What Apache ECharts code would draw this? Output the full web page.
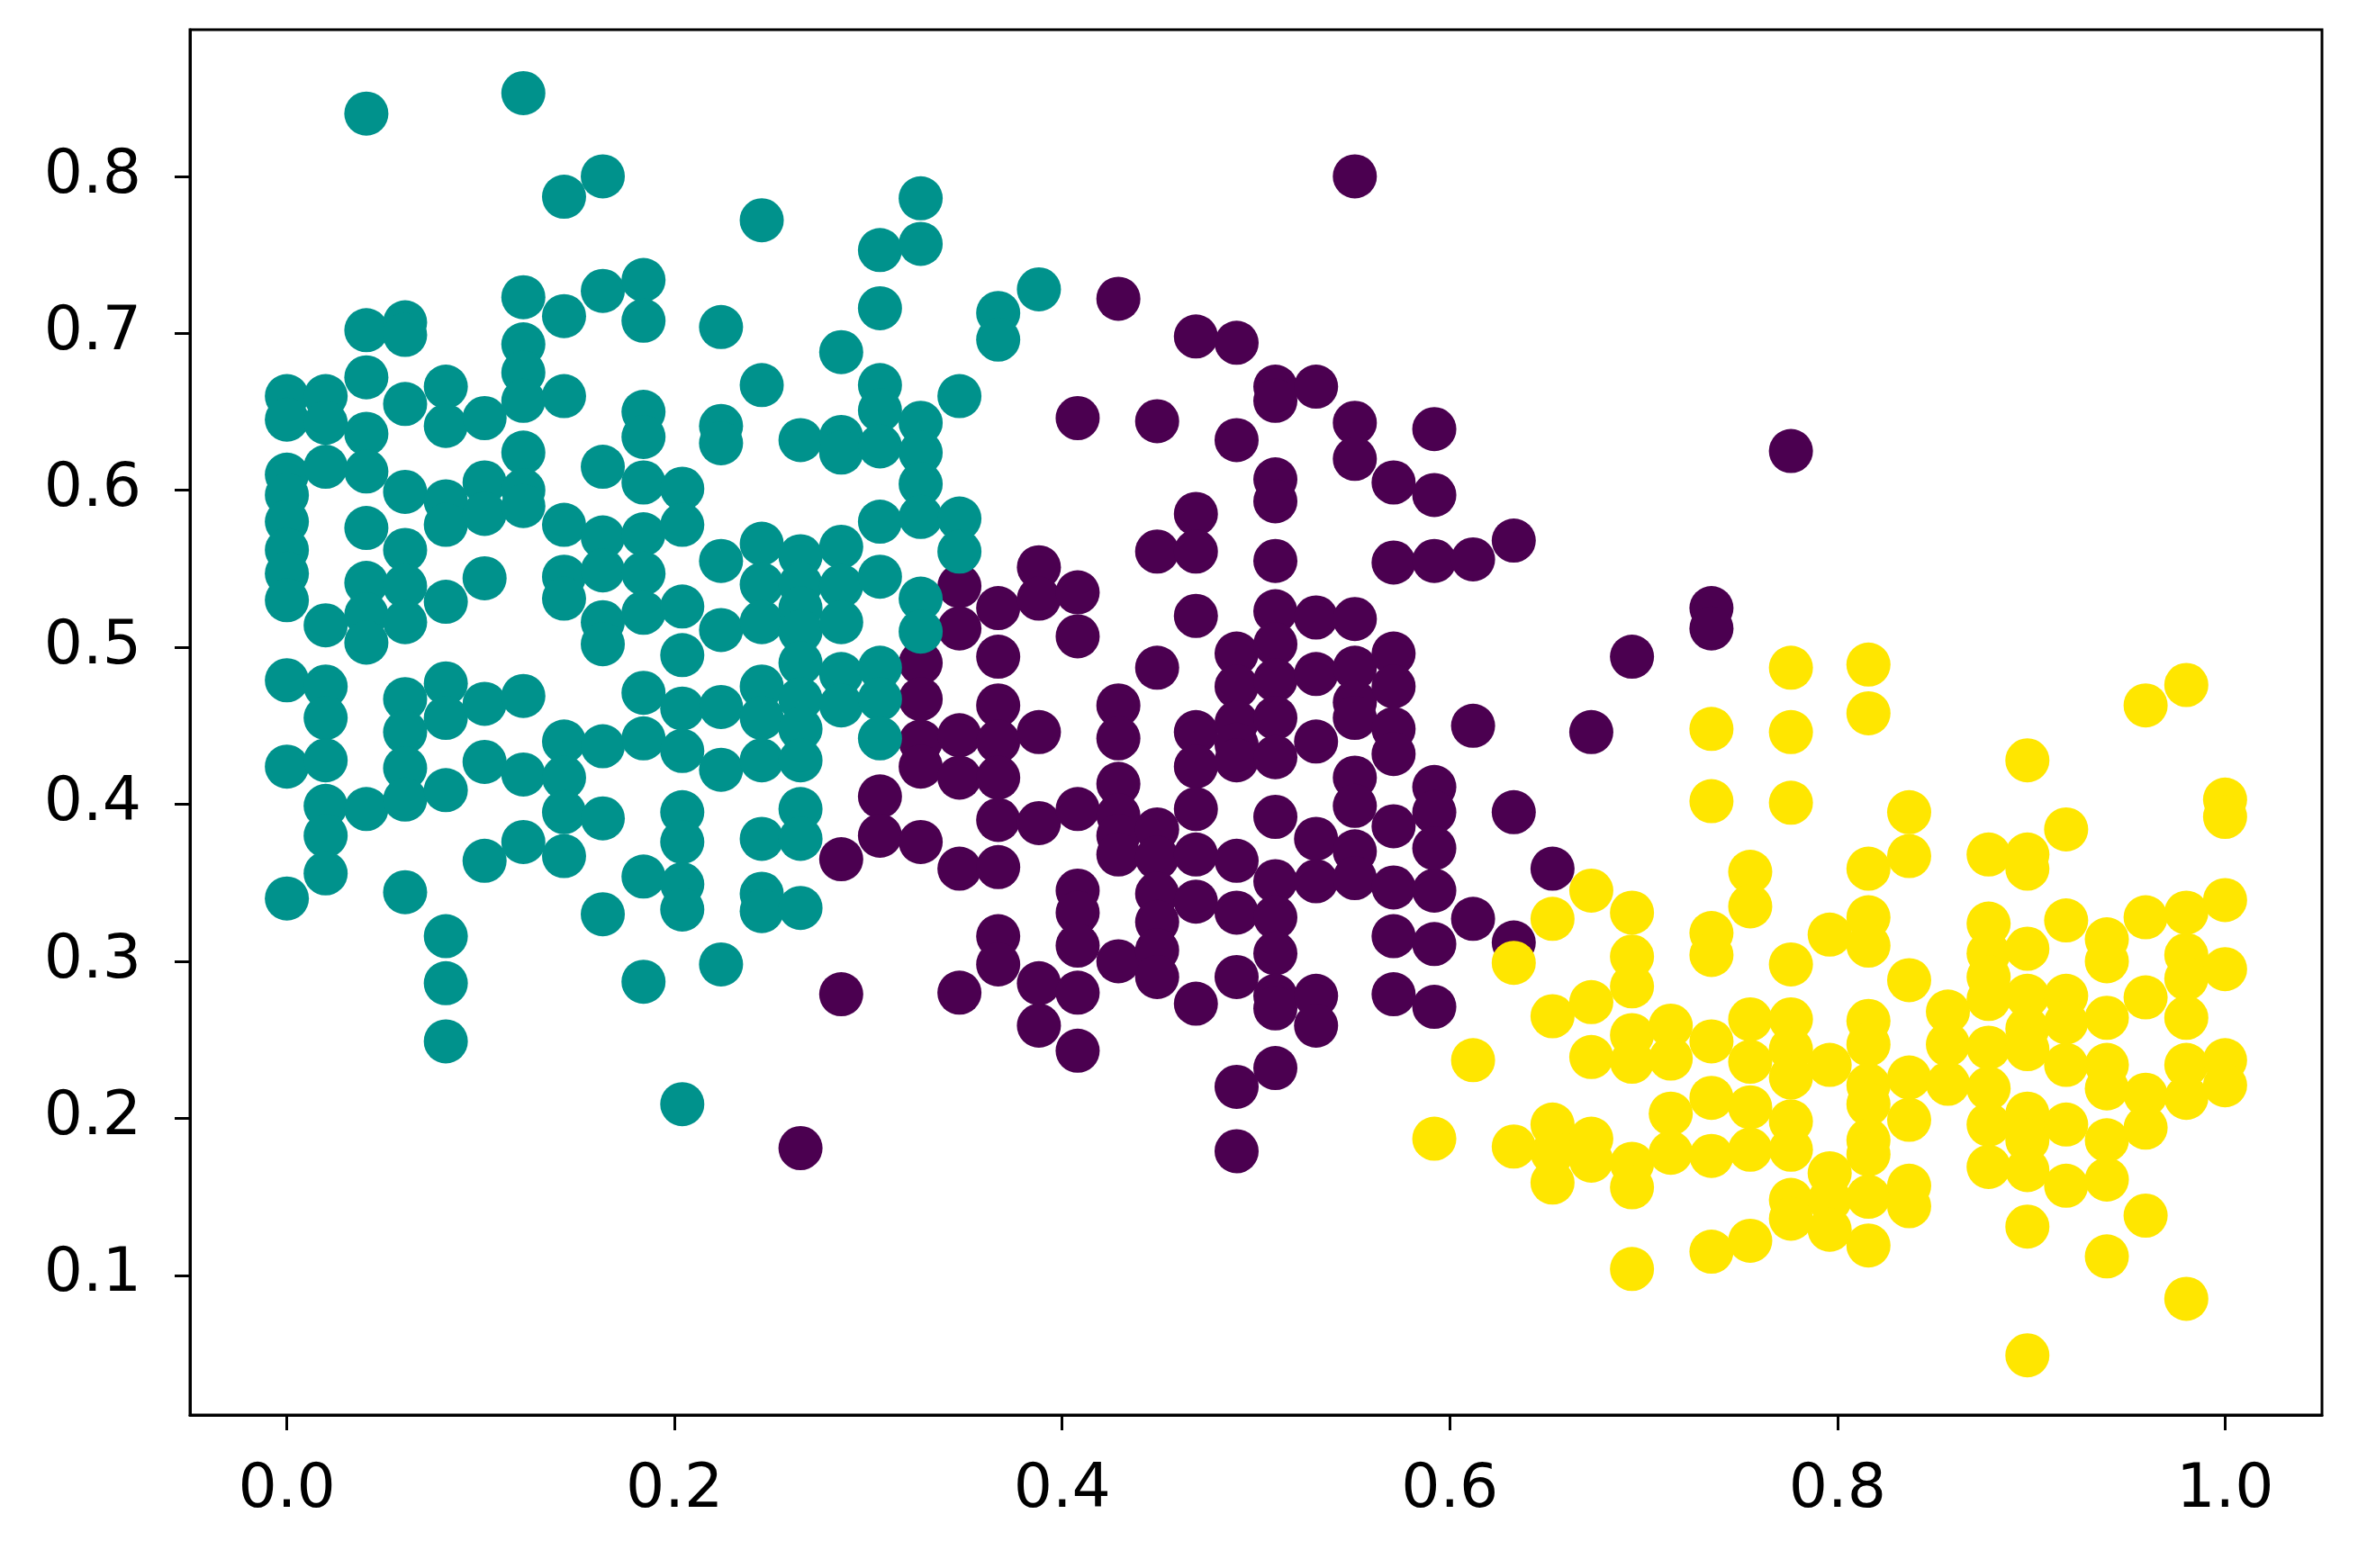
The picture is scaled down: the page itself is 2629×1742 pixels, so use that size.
<!DOCTYPE html>
<html>
<head>
<meta charset="utf-8">
<script src="https://cdn.jsdelivr.net/npm/echarts@6/dist/echarts.min.js"></script>
<style>
html,body{margin:0;padding:0;background:#fff;}
#chart{width:2629px;height:1742px;}
</style>
</head>
<body>
<div id="chart"></div>
<script>
// Tick labels
const xTicks = [0.0, 0.2, 0.4, 0.6, 0.8, 1.0];
const yTicks = [0.1, 0.2, 0.3, 0.4, 0.5, 0.6, 0.7, 0.8];

// Cluster 1 (teal): [x, [y values in that column]]
const tealColumns = [
  [0.000, [0.66, 0.645, 0.61, 0.597, 0.58, 0.562, 0.547, 0.53, 0.479, 0.424, 0.34]],
  [0.020, [0.66, 0.643, 0.615, 0.514, 0.475, 0.455, 0.428, 0.399, 0.38, 0.356]],
  [0.041, [0.84, 0.702, 0.672, 0.636, 0.612, 0.576, 0.541, 0.521, 0.503, 0.397]],
  [0.061, [0.707, 0.699, 0.655, 0.599, 0.562, 0.539, 0.516, 0.467, 0.446, 0.423, 0.403, 0.344]],
  [0.082, [0.666, 0.641, 0.593, 0.578, 0.529, 0.477, 0.455, 0.409, 0.316, 0.286, 0.249]],
  [0.102, [0.646, 0.605, 0.585, 0.544, 0.464, 0.427, 0.364]],
  [0.122, [0.853, 0.723, 0.693, 0.675, 0.657, 0.624, 0.600, 0.59, 0.469, 0.419, 0.376]],
  [0.143, [0.787, 0.711, 0.66, 0.578, 0.545, 0.531, 0.44, 0.417, 0.395, 0.367]],
  [0.163, [0.80, 0.727, 0.615, 0.57, 0.549, 0.516, 0.502, 0.437, 0.391, 0.33]],
  [0.184, [0.734, 0.708, 0.65, 0.634, 0.605, 0.572, 0.547, 0.522, 0.471, 0.442, 0.354, 0.287]],
  [0.204, [0.601, 0.578, 0.526, 0.495, 0.461, 0.434, 0.395, 0.376, 0.349, 0.333, 0.209]],
  [0.224, [0.704, 0.641, 0.63, 0.555, 0.511, 0.462, 0.422, 0.298]],
  [0.245, [0.772, 0.667, 0.566, 0.54, 0.516, 0.475, 0.455, 0.428, 0.378, 0.343, 0.332]],
  [0.265, [0.632, 0.558, 0.54, 0.525, 0.51, 0.49, 0.467, 0.448, 0.428, 0.397, 0.378, 0.334]],
  [0.286, [0.688, 0.634, 0.624, 0.564, 0.539, 0.516, 0.483, 0.463]],
  [0.306, [0.753, 0.716, 0.667, 0.651, 0.628, 0.58, 0.545, 0.487, 0.467, 0.442]],
  [0.327, [0.786, 0.757, 0.643, 0.624, 0.604, 0.583, 0.531, 0.51]],
  [0.347, [0.66, 0.582, 0.561]],
  [0.367, [0.713, 0.696]],
  [0.388, [0.728]]
];

// Cluster 0 (purple)
const purpleColumns = [
  [0.265, [0.181]],
  [0.286, [0.365, 0.279]],
  [0.306, [0.405, 0.38]],
  [0.327, [0.49, 0.467, 0.44, 0.424, 0.376]],
  [0.347, [0.539, 0.512, 0.444, 0.417, 0.359, 0.28]],
  [0.367, [0.525, 0.494, 0.463, 0.44, 0.417, 0.39, 0.36, 0.316, 0.298]],
  [0.388, [0.551, 0.531, 0.446, 0.388, 0.286, 0.259]],
  [0.408, [0.646, 0.535, 0.507, 0.397, 0.345, 0.331, 0.31, 0.28, 0.243]],
  [0.429, [0.722, 0.463, 0.442, 0.413, 0.393, 0.38, 0.368, 0.3]],
  [0.449, [0.644, 0.561, 0.487, 0.384, 0.366, 0.343, 0.325, 0.307, 0.29]],
  [0.469, [0.698, 0.585, 0.561, 0.52, 0.446, 0.424, 0.397, 0.368, 0.338, 0.273]],
  [0.490, [0.694, 0.632, 0.496, 0.475, 0.452, 0.438, 0.428, 0.364, 0.331, 0.29, 0.22, 0.179]],
  [0.510, [0.666, 0.657, 0.607, 0.593, 0.555, 0.523, 0.502, 0.479, 0.455, 0.43, 0.392, 0.351, 0.328, 0.305, 0.278, 0.27, 0.232]],
  [0.531, [0.666, 0.519, 0.483, 0.44, 0.378, 0.351, 0.278, 0.259]],
  [0.551, [0.80, 0.643, 0.62, 0.518, 0.487, 0.465, 0.455, 0.417, 0.399, 0.37, 0.353]],
  [0.571, [0.605, 0.554, 0.496, 0.475, 0.448, 0.432, 0.386, 0.347, 0.316, 0.279]],
  [0.592, [0.639, 0.597, 0.555, 0.411, 0.395, 0.372, 0.345, 0.311, 0.271]],
  [0.612, [0.556, 0.45, 0.327]],
  [0.633, [0.568, 0.395, 0.312]],
  [0.653, [0.359]],
  [0.673, [0.446]],
  [0.694, [0.494]],
  [0.735, [0.525, 0.512]],
  [0.776, [0.625]]
];

// Cluster 2 (yellow)
const yellowColumns = [
  [0.592, [0.187]],
  [0.612, [0.237]],
  [0.633, [0.299, 0.182]],
  [0.653, [0.327, 0.265, 0.196, 0.178, 0.159]],
  [0.673, [0.345, 0.274, 0.239, 0.187, 0.173]],
  [0.694, [0.331, 0.303, 0.284, 0.253, 0.236, 0.171, 0.156, 0.104]],
  [0.714, [0.259, 0.238, 0.203, 0.178]],
  [0.735, [0.448, 0.402, 0.318, 0.304, 0.249, 0.213, 0.176, 0.115]],
  [0.755, [0.357, 0.335, 0.263, 0.236, 0.207, 0.18, 0.122]],
  [0.776, [0.487, 0.446, 0.401, 0.298, 0.263, 0.244, 0.226, 0.198, 0.18, 0.148, 0.136]],
  [0.796, [0.317, 0.234, 0.165, 0.148, 0.129]],
  [0.816, [0.489, 0.458, 0.359, 0.328, 0.31, 0.262, 0.247, 0.221, 0.209, 0.186, 0.177, 0.15, 0.119]],
  [0.837, [0.395, 0.367, 0.288, 0.226, 0.199, 0.157, 0.144]],
  [0.857, [0.268, 0.247, 0.222]],
  [0.878, [0.368, 0.324, 0.305, 0.29, 0.276, 0.245, 0.219, 0.196, 0.169]],
  [0.898, [0.428, 0.368, 0.359, 0.308, 0.278, 0.257, 0.244, 0.203, 0.186, 0.167, 0.131, 0.049]],
  [0.918, [0.384, 0.326, 0.278, 0.261, 0.234, 0.196, 0.157]],
  [0.939, [0.314, 0.3, 0.264, 0.234, 0.219, 0.186, 0.161, 0.112]],
  [0.959, [0.463, 0.328, 0.277, 0.215, 0.194, 0.138]],
  [0.980, [0.476, 0.331, 0.304, 0.289, 0.264, 0.234, 0.213, 0.085]],
  [1.000, [0.403, 0.392, 0.339, 0.295, 0.237, 0.221]]
];

function flatten(cols) {
  const out = [];
  cols.forEach(function (c) { c[1].forEach(function (y) { out.push([c[0], y]); }); });
  return out;
}

const FONT = 'DejaVu Sans';
const chart = echarts.init(document.getElementById('chart'), null, {renderer: 'canvas'});
const axisCommon = {
  type: 'value',
  splitLine: {show: false},
  axisLine: {show: true, onZero: false, lineStyle: {color: '#000', width: 3}},
  axisTick: {show: true, length: 17, lineStyle: {color: '#000', width: 3}},
};
chart.setOption({
  animation: false,
  backgroundColor: '#ffffff',
  grid: {left: 211, right: 50, top: 33, bottom: 170, show: true, borderColor: '#000', borderWidth: 3, containLabel: false},
  xAxis: Object.assign({}, axisCommon, {
    min: -0.05, max: 1.05,
    axisTick: Object.assign({}, axisCommon.axisTick, {customValues: xTicks}),
    axisLabel: {customValues: xTicks, margin: 50, color: '#000', fontSize: 68, fontFamily: FONT,
      formatter: function (v) { return v.toFixed(1); }}
  }),
  yAxis: Object.assign({}, axisCommon, {
    min: 0.011, max: 0.8934,
    axisTick: Object.assign({}, axisCommon.axisTick, {customValues: yTicks}),
    axisLabel: {customValues: yTicks, margin: 54, color: '#000', fontSize: 68, fontFamily: FONT,
      formatter: function (v) { return v.toFixed(1); }}
  }),
  series: [
    {name: 'cluster 0', type: 'scatter', data: flatten(purpleColumns), symbolSize: 49,
     itemStyle: {color: '#4b0050', opacity: 1}},
    {name: 'cluster 1', type: 'scatter', data: flatten(tealColumns), symbolSize: 49,
     itemStyle: {color: '#00928c', opacity: 1}},
    {name: 'cluster 2', type: 'scatter', data: flatten(yellowColumns), symbolSize: 49,
     itemStyle: {color: '#ffe600', opacity: 1}}
  ]
});
</script>
</body>
</html>
